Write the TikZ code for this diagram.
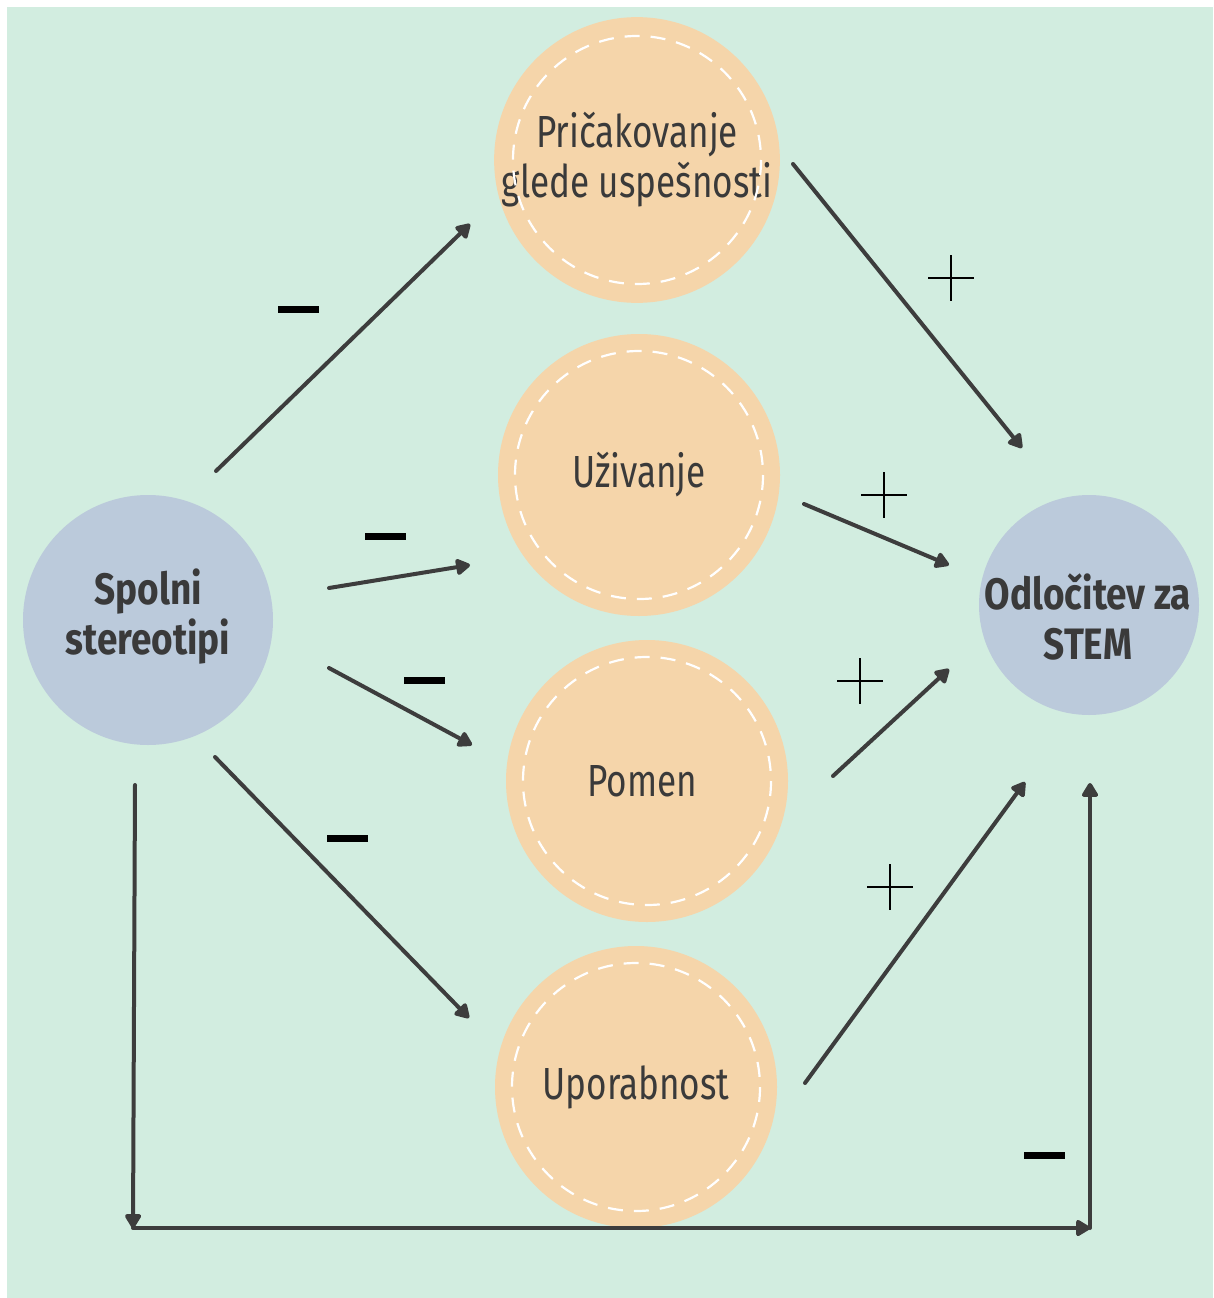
\documentclass[tikz,border=0pt]{standalone}
\usepackage{fontspec}
\setmainfont{Fira Sans}[FakeStretch=0.78,BoldFeatures={FakeStretch=0.84}]
\usetikzlibrary{arrows.meta,calc}
\definecolor{bgmint}{HTML}{D2EDE0}
\definecolor{peach}{HTML}{F5D5AA}
\definecolor{bluegray}{HTML}{BBCADB}
\definecolor{ink}{HTML}{3D3D3D}
\definecolor{txt}{HTML}{3A3A3A}
\begin{document}
\begin{tikzpicture}[x=1pt,y=-1pt,
  factor/.style={circle,fill=peach,minimum size=282pt,inner sep=0pt,align=center,text=txt,
    font=\fontsize{45}{50}\selectfont},
  endnode/.style={circle,fill=bluegray,inner sep=0pt},
  endtext/.style={align=center,text=txt,font=\bfseries\fontsize{44}{50}\selectfont,inner sep=0pt},
  dashcirc/.style={draw=white,line width=2.2pt,dash pattern=on 15pt off 11pt},
  conn/.style={draw=ink,line width=4pt,line cap=round,-{Triangle[length=16pt,width=18pt,round]}},
  minusbar/.style={rectangle,fill=black,minimum width=41pt,minimum height=7pt,inner sep=0pt},
  plussign/.style={rectangle,minimum size=46pt,inner sep=0pt,
    path picture={\draw[black,line width=2.4pt]
      (path picture bounding box.north) -- (path picture bounding box.south)
      (path picture bounding box.west) -- (path picture bounding box.east);}}
]
\fill[white] (0,0) rectangle (1213,1298);
\fill[bgmint] (7,7) rectangle (1213,1298);

% nodes
\node[endnode,minimum size=250pt] (sp) at (148,620) {};
\node[endtext] (spt) at (148,617) {Spolni\\stereotipi};
\node[endnode,minimum size=220pt] (od) at (1089,605) {};
\node[endtext] (odt) at (1088,617) {Odločitev za\\STEM};
\node[factor] (pr) at (637,160) {Pričakovanje\\glede uspešnosti};
\node[factor] (uz) at (639,475) {Uživanje};
\node[factor] (po) at (647,781) {\hspace*{-10pt}Pomen};
\node[factor] (up) at (636,1087) {Uporabnost};
\foreach \n in {pr,uz,po,up} \draw[dashcirc] (\n) circle (124);

% connectors
\draw[conn] ($(sp)+(68,-149)$) -- ($(pr)+(-167,64)$);
\draw[conn] ($(sp)+(181,-32)$) -- ($(uz)+(-169,90)$);
\draw[conn] ($(sp)+(181,48)$) -- ($(po)+(-175,-36)$);
\draw[conn] ($(sp)+(67,137)$) -- ($(up)+(-167,-69)$);
\draw[conn] ($(pr)+(156,4)$) -- ($(od)+(-67,-157)$);
\draw[conn] ($(uz)+(165,29)$) -- ($(od)+(-140,-40)$);
\draw[conn] ($(po)+(186,-5)$) -- ($(od)+(-140,64)$);
\draw[conn] ($(up)+(169,-4)$) -- ($(od)+(-64,177)$);
\coordinate (c1) at (133,1228);
\coordinate (c2) at (1090,1228);
\draw[conn] ($(sp)+(-13,165)$) -- (c1);
\draw[conn] (c1) -- (c2);
\draw[conn] (c2) -- ($(od)+(1,178)$);

% signs
\node[minusbar] (m1) at (298.5,309.5) {};
\node[minusbar] (m2) at (385.5,536.5) {};
\node[minusbar] (m3) at (424.5,680.5) {};
\node[minusbar] (m4) at (347,838) {};
\node[minusbar] (m5) at (1044.5,1155.5) {};
\node[plussign] (p1) at (951,278) {};
\node[plussign] (p2) at (884,495) {};
\node[plussign] (p3) at (860,681) {};
\node[plussign] (p4) at (890,887) {};
\end{tikzpicture}
\end{document}
